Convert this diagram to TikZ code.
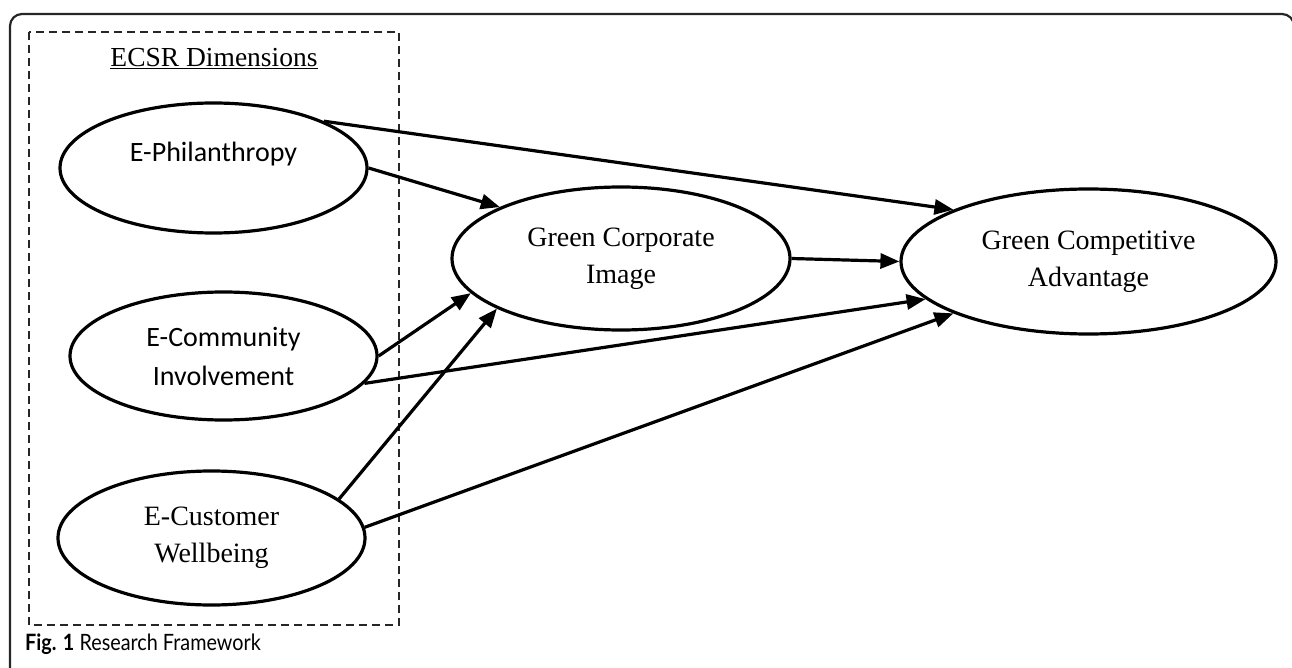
\documentclass[tikz,border=0pt]{standalone}
\usepackage{fontspec}
\setmainfont{Liberation Serif}
\newfontfamily\calfont{Carlito}
\newfontfamily\capfont[FakeStretch=0.88]{Lato}
\usetikzlibrary{shapes.geometric,arrows.meta}

\tikzset{
    construct/.style={ellipse,draw,line width=3.2pt,inner sep=0pt,align=center,
        minimum width=307pt,font=\fontsize{28}{37}\selectfont},
    effect/.style={line width=3.2pt,-{Triangle[length=19pt,width=15pt]}}
}

\begin{document}
\begin{tikzpicture}[x=1pt,y=-1pt]
    \useasboundingbox (0,0) rectangle (1292,668);
    % frame and dimension box
    \draw[line width=2.2pt,black!85,rounded corners=12pt](10,680)--(10,14)--(1294,14)--(1294,680);
    \draw[line width=1.8pt,black!85,dash pattern=on 8pt off 5pt](29,32) rectangle (399,625);
    \node(dims)[anchor=base,font=\fontsize{27.5}{33}\selectfont] at (214,67) {\underline{ECSR Dimensions}};

    \node(phil)[construct,minimum height=130pt,font=\calfont\fontsize{28}{33}\selectfont,
        text height=20pt,text depth=33pt] at (213.5,168) {E-Philanthropy};
    \node(comm)[construct,minimum height=128pt,font=\calfont\fontsize{28}{39}\selectfont]
        at (223.5,356) {E-Community\\Involvement};
    \node(cust)[construct,minimum height=134pt] at (211.5,538) {E-Customer\\Wellbeing};
    \node(gci)[construct,minimum width=338pt,minimum height=143pt] at (621,258.5) {Green Corporate\\Image};
    \node(gca)[construct,minimum width=375pt,minimum height=145pt] at (1088.5,261.5) {Green Competitive\\Advantage};

    \draw[effect](phil.23.4)--(gca.159);
    \draw[effect](phil.0)--(gci.157.1);
    \draw[effect](gci.0)--(gca.180);
    \draw[effect](comm.0)--(gci.193.1);
    \draw[effect](comm.349.8)--(gca.193.5);
    \draw[effect](cust.17.3)--(gci.202.6);
    \draw[effect](cust.4.9)--(gca.201.1);

    \node(cap)[anchor=base west,inner sep=0pt,font=\capfont\fontsize{22.5}{27}\selectfont] at (25,650)
        {\textbf{Fig. 1} Research Framework};
\end{tikzpicture}
\end{document}
